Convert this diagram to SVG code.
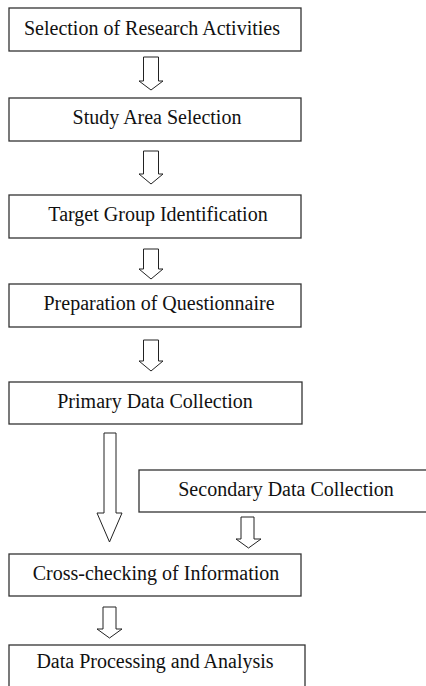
<svg xmlns="http://www.w3.org/2000/svg" width="426" height="686" viewBox="0 0 426 686">
<style>
rect.box{fill:#fff;stroke:#333;stroke-width:1.3}
text{font-family:"Liberation Serif","Times New Roman",serif;font-size:20px;fill:#111;text-anchor:middle}
.arr path{fill:#fff;stroke:#222;stroke-width:1}
</style>
<rect width="426" height="686" fill="#fff"/>
<g id="connectors" class="arr">
<path d="M143.5,57 H158.5 V81 H163 L151,90 L139,81 H143.5 Z"/>
<path d="M143.5,151 H158.5 V174 H163 L151,184 L139,174 H143.5 Z"/>
<path d="M143.5,249 H158.5 V269 H163 L151,279 L139,269 H143.5 Z"/>
<path d="M143.5,340 H158.5 V361 H163 L151,371 L139,361 H143.5 Z"/>
<path d="M104,433 H116 V513 H122 L109.5,542 L97,513 H104 Z"/>
<path d="M241,517 H254 V539 H261 L248.5,548 L236,539 H241 Z"/>
<path d="M103,607 H116 V629 H122 L109.5,638 L97,629 H103 Z"/>
</g>
<g id="n1"><rect class="box" x="9" y="8" width="292" height="43"/><text x="152" y="35">Selection of Research Activities</text></g>
<g id="n2"><rect class="box" x="9" y="98" width="292" height="43"/><text x="157" y="124">Study Area Selection</text></g>
<g id="n3"><rect class="box" x="9" y="195" width="292" height="43"/><text x="158" y="221">Target Group Identification</text></g>
<g id="n4"><rect class="box" x="9" y="284" width="292" height="43"/><text x="159" y="310">Preparation of Questionnaire</text></g>
<g id="n5"><rect class="box" x="9" y="382" width="293" height="42"/><text x="155" y="408">Primary Data Collection</text></g>
<g id="n6"><rect class="box" x="139" y="470" width="300" height="42"/><text x="286" y="496">Secondary Data Collection</text></g>
<g id="n7"><rect class="box" x="9" y="554" width="292" height="42"/><text x="156" y="580">Cross-checking of Information</text></g>
<g id="n8"><rect class="box" x="9" y="645" width="296" height="50"/><text x="155" y="668">Data Processing and Analysis</text></g>
</svg>
